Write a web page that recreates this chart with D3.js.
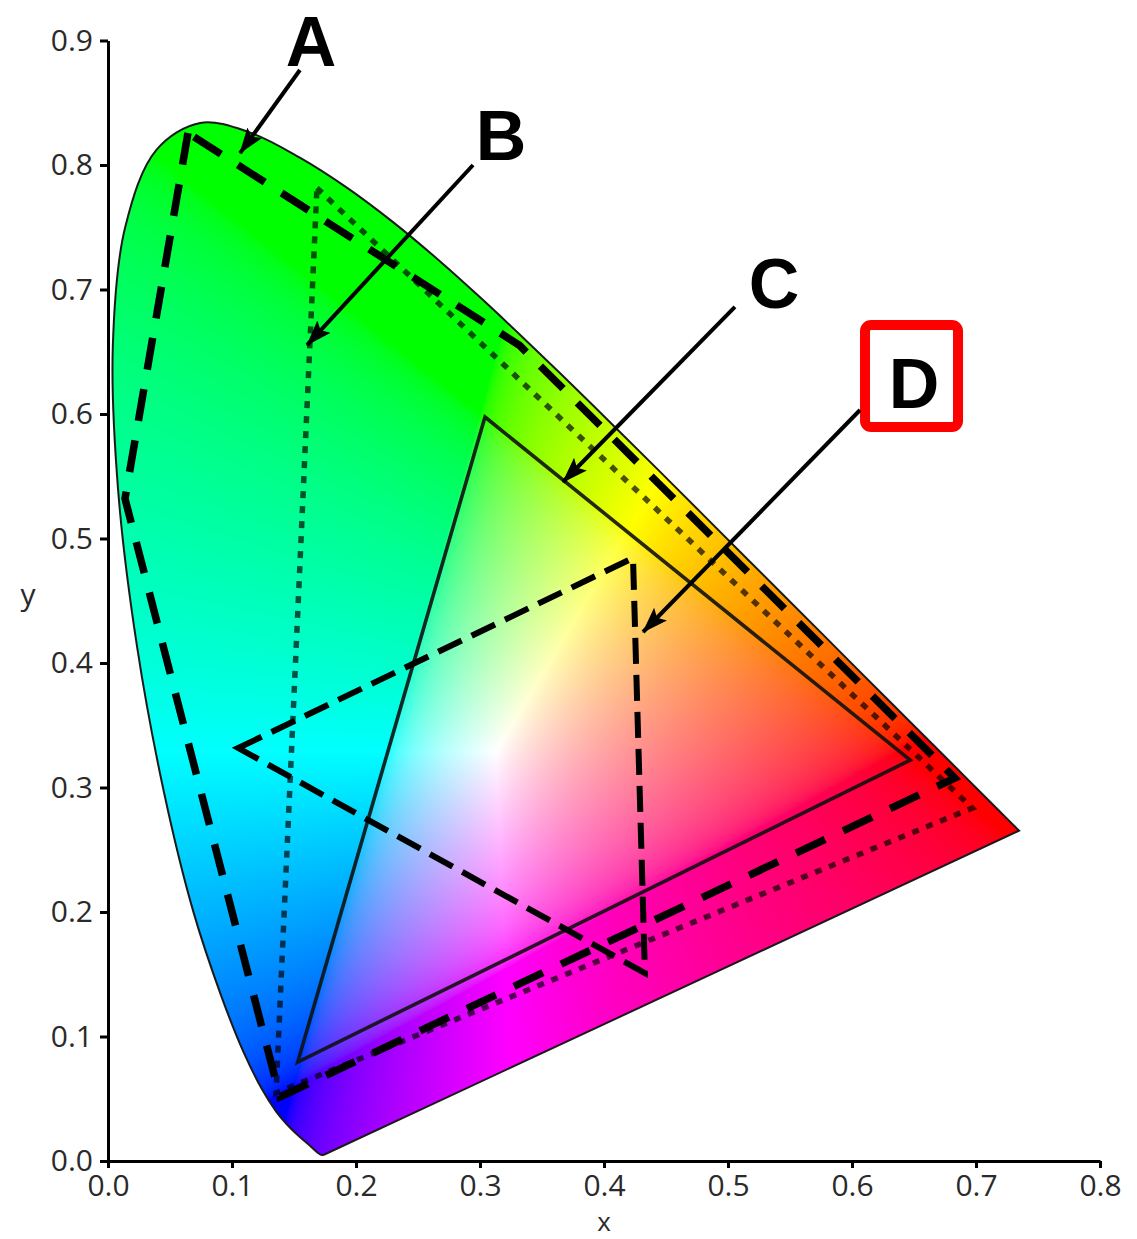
<!DOCTYPE html>
<html><head><meta charset="utf-8">
<script src="https://cdn.jsdelivr.net/npm/d3@7"></script>
<style>body{margin:0;background:#fff}svg{display:block}</style>
</head><body>
<svg id="chart" width="1137" height="1239"></svg>
<script>
// Spectral locus (chromaticity x, y), 380 nm -> 700 nm
const locusX = [0.1741,0.1738,0.1733,0.1726,0.1714,0.1689,0.1644,0.1611,0.1566,0.1510,0.1440,0.1355,0.1241,0.1096,0.0913,0.0687,0.0454,0.0235,0.0082,0.0039,0.0139,0.0389,0.0743,0.1142,0.1547,0.1929,0.2296,0.2658,0.3016,0.3373,0.3731,0.4087,0.4441,0.4788,0.5125,0.5448,0.5752,0.6029,0.6270,0.6482,0.6658,0.6801,0.6915,0.7079,0.7190,0.7260,0.7300,0.7334,0.7347];
const locusY = [0.0050,0.0049,0.0048,0.0048,0.0051,0.0069,0.0109,0.0138,0.0177,0.0227,0.0297,0.0399,0.0578,0.0868,0.1327,0.2007,0.2950,0.4127,0.5384,0.6548,0.7502,0.8120,0.8338,0.8262,0.8059,0.7816,0.7543,0.7243,0.6923,0.6589,0.6245,0.5896,0.5547,0.5202,0.4866,0.4544,0.4242,0.3965,0.3725,0.3514,0.3340,0.3197,0.3083,0.2920,0.2809,0.2740,0.2700,0.2666,0.2653];

// Gamut polygons
const gamutAx = [0.0645, 0.0137, 0.1387, 0.6830, 0.3320];
const gamutAy = [0.8257, 0.5320, 0.0514, 0.3076, 0.6550];
const gamutBx = [0.1685, 0.6970, 0.1355];
const gamutBy = [0.7815, 0.2835, 0.0546];
const gamutCx = [0.3040, 0.6470, 0.1530];
const gamutCy = [0.5976, 0.3220, 0.0795];
const gamutDx = [0.1050, 0.4234, 0.4330];
const gamutDy = [0.3317, 0.4843, 0.1510];

// Ticks
const xTicks = [0.0,0.1,0.2,0.3,0.4,0.5,0.6,0.7,0.8];
const yTicks = [0.0,0.1,0.2,0.3,0.4,0.5,0.6,0.7,0.8,0.9];

// Annotations (data coordinates)
const labels = ["A","B","C","D"];
const labelX = [0.1637, 0.3169, 0.5371, 0.6500];
const labelY = [0.8795, 0.8040, 0.6851, 0.6048];
const arrowFromX = [0.1548, 0.2944, 0.5056, 0.6065];
const arrowFromY = [0.8763, 0.8000, 0.6860, 0.6032];
const arrowToX = [0.1065, 0.1605, 0.3669, 0.4315];
const arrowToY = [0.8096, 0.6554, 0.5454, 0.4249];
const boxD = {x0:0.6105, x1:0.6855, y0:0.5896, y1:0.6715};

const W = 1137, H = 1239;
const svg = d3.select('#chart');
const x = d3.scaleLinear().domain([0, 0.8]).range([108, 1100]);
const y = d3.scaleLinear().domain([0, 0.9]).range([1161, 1161 - 0.9 * 1245]);

const defs = svg.append('defs');
const locusPts = locusX.map((v, i) => [x(v), y(locusY[i])]);
const locusPath = d3.line().curve(d3.curveCatmullRom.alpha(0.5))(locusPts) + 'Z';
defs.append('clipPath').attr('id', 'locusClip').append('path').attr('d', locusPath);

defs.append('marker').attr('id', 'arrow')
  .attr('markerUnits', 'userSpaceOnUse')
  .attr('viewBox', '0 0 26 20').attr('markerWidth', 26).attr('markerHeight', 20)
  .attr('refX', 25).attr('refY', 10).attr('orient', 'auto')
  .append('path').attr('d', 'M0,1 L26,10 L0,19 L5,10 Z').attr('fill', '#000');

// chromaticity colour fill
const cv = document.createElement('canvas');
cv.width = W; cv.height = H;
const ctx = cv.getContext('2d');
const img = ctx.createImageData(W, H);
function enc(v){ return v <= 0.0031308 ? 12.92 * v : 1.055 * Math.pow(v, 1/2.4) - 0.055; }
for (let py = 100; py < 1170; py++) {
  const cy = y.invert(py + 0.5);
  if (cy <= 0.0005) continue;
  for (let px = 100; px < 1040; px++) {
    const cx = x.invert(px + 0.5);
    if (cx < 0) continue;
    const X = cx / cy, Y = 1, Z = (1 - cx - cy) / cy;
    let r = 3.2406*X - 1.5372*Y - 0.4986*Z;
    let g = -0.9689*X + 1.8758*Y + 0.0415*Z;
    let b = 0.0557*X - 0.2040*Y + 1.0570*Z;
    r = Math.max(0, r); g = Math.max(0, g); b = Math.max(0, b);
    const m = Math.max(r, g, b) || 1;
    const k = (py * W + px) * 4;
    img.data[k] = Math.round(255 * enc(r / m));
    img.data[k+1] = Math.round(255 * enc(g / m));
    img.data[k+2] = Math.round(255 * enc(b / m));
    img.data[k+3] = 255;
  }
}
ctx.putImageData(img, 0, 0);
svg.append('image').attr('href', cv.toDataURL()).attr('x', 0).attr('y', 0)
  .attr('width', W).attr('height', H).attr('clip-path', 'url(#locusClip)');

svg.append('path').attr('d', locusPath).attr('fill', 'none')
  .attr('stroke', '#1a1a1a').attr('stroke-width', 2);

function poly(xs, ys){ return 'M' + xs.map((v, i) => x(v) + ',' + y(ys[i])).join('L') + 'Z'; }

// C solid
svg.append('path').attr('d', poly(gamutCx, gamutCy)).attr('fill', 'none')
  .attr('stroke', '#111').attr('stroke-opacity', 0.9).attr('stroke-width', 3.6)
  .attr('stroke-linejoin', 'miter');
// B dotted
svg.append('path').attr('d', poly(gamutBx, gamutBy)).attr('fill', 'none')
  .attr('stroke', '#000').attr('stroke-opacity', 0.68).attr('stroke-width', 5.5)
  .attr('stroke-dasharray', '7,8');
// A dashed
svg.append('path').attr('d', poly(gamutAx, gamutAy)).attr('fill', 'none')
  .attr('stroke', '#000').attr('stroke-width', 7.5)
  .attr('stroke-dasharray', '32,20');
// D dashed
svg.append('path').attr('d', poly(gamutDx, gamutDy)).attr('fill', 'none')
  .attr('stroke', '#000').attr('stroke-width', 6)
  .attr('stroke-dasharray', '26,11');

// Axes
const gx = svg.append('g').attr('transform', 'translate(0,1161)')
  .call(d3.axisBottom(x).tickValues(xTicks).tickFormat(d3.format('.1f'))
    .tickSize(7).tickSizeOuter(0).tickPadding(7));
const gy = svg.append('g').attr('transform', 'translate(108,0)')
  .call(d3.axisLeft(y).tickValues(yTicks).tickFormat(d3.format('.1f'))
    .tickSize(8).tickSizeOuter(0).tickPadding(7));
[gx, gy].forEach(g => {
  g.select('.domain').attr('stroke', '#000').attr('stroke-width', 3);
  g.selectAll('.tick line').attr('stroke', '#000').attr('stroke-width', 3);
  g.selectAll('.tick text').attr('font-family', "'Open Sans', sans-serif")
    .attr('font-size', 30).attr('fill', '#2a2a2a');
});
svg.append('text').attr('x', 604).attr('y', 1231).attr('text-anchor', 'middle')
  .attr('font-family', "'Open Sans', sans-serif").attr('font-size', 26).attr('fill', '#2a2a2a').text('x');
svg.append('text').attr('x', 28).attr('y', 605).attr('text-anchor', 'middle')
  .attr('font-family', "'Open Sans', sans-serif").attr('font-size', 30).attr('fill', '#2a2a2a').text('y');

// Annotation box D
svg.append('rect').attr('x', x(boxD.x0)).attr('y', y(boxD.y1))
  .attr('width', x(boxD.x1) - x(boxD.x0)).attr('height', y(boxD.y0) - y(boxD.y1))
  .attr('rx', 6).attr('fill', '#fff').attr('stroke', '#ff0000').attr('stroke-width', 10);

// Arrows
labels.forEach((l, i) => {
  svg.append('line')
    .attr('x1', x(arrowFromX[i])).attr('y1', y(arrowFromY[i]))
    .attr('x2', x(arrowToX[i])).attr('y2', y(arrowToY[i]))
    .attr('stroke', '#000').attr('stroke-width', 4).attr('marker-end', 'url(#arrow)');
  svg.append('text').attr('x', x(labelX[i])).attr('y', y(labelY[i]))
    .attr('text-anchor', 'middle').attr('font-family', "'Liberation Sans', Arial, sans-serif")
    .attr('font-weight', 'bold').attr('font-size', 70).attr('fill', '#000').text(l);
});
</script>
</body></html>
